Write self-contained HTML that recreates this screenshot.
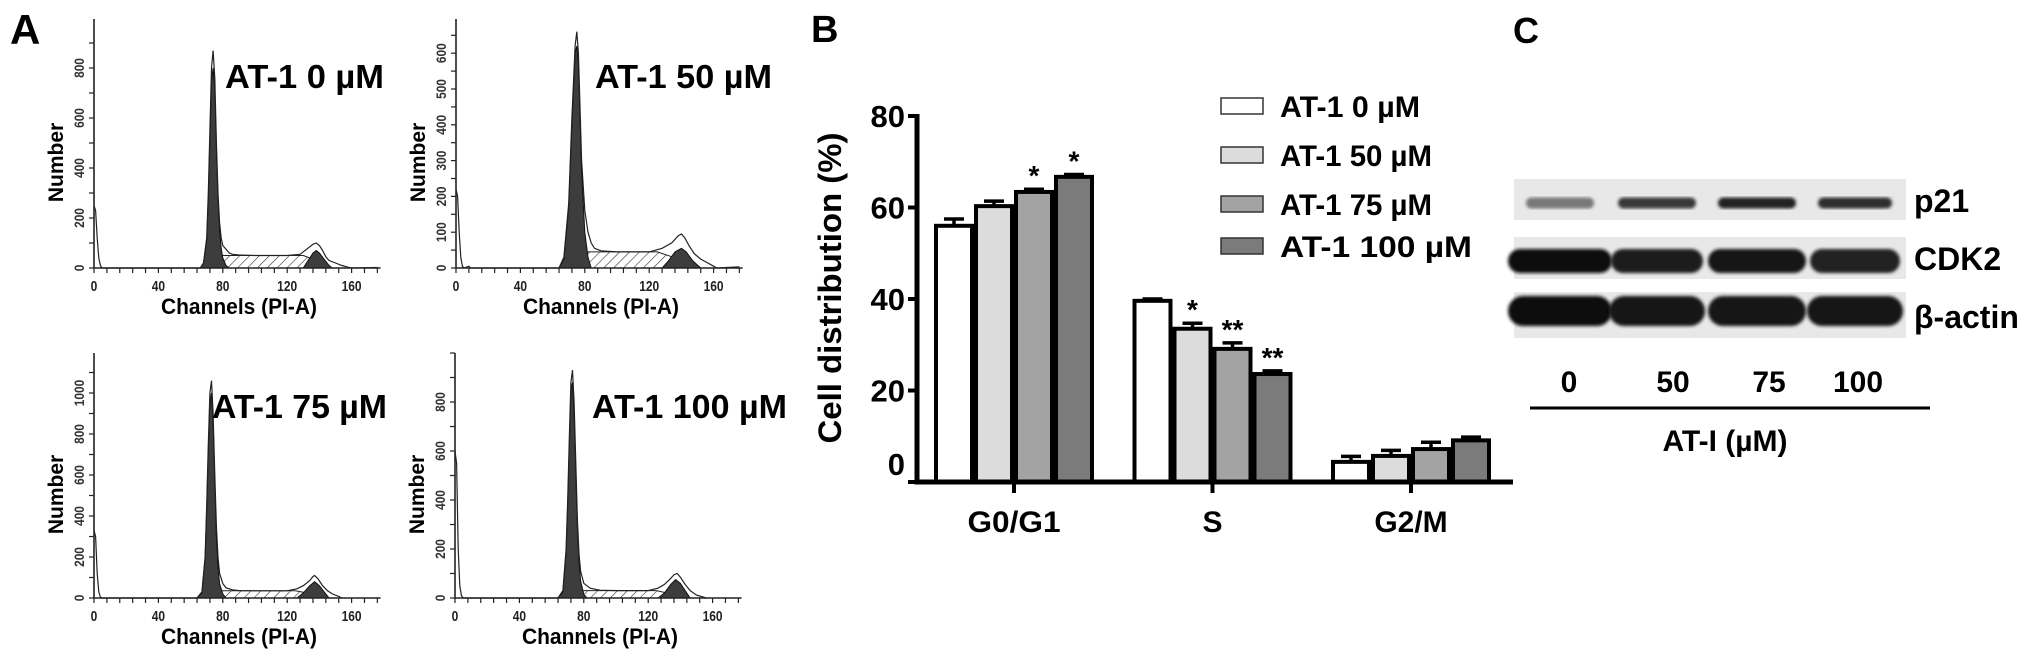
<!DOCTYPE html>
<html><head><meta charset="utf-8"><style>
html,body{margin:0;padding:0;background:#fff;}
svg{display:block;font-family:"Liberation Sans",Arial,sans-serif;}
</style></head><body>
<svg id="fig" width="2031" height="659" viewBox="0 0 2031 659" xmlns="http://www.w3.org/2000/svg">
<defs>
<pattern id="hatch" width="7" height="7" patternUnits="userSpaceOnUse" patternTransform="rotate(45)">
<rect width="7" height="7" fill="#fff"/><line x1="0" y1="0" x2="0" y2="7" stroke="#333" stroke-width="1.2"/>
</pattern>
<filter id="blur"><feGaussianBlur stdDeviation="1.5"/></filter>
</defs>
<g id="panelA"></g>
<g id="panelB"></g>
<g id="panelC"></g>
</svg>
<script>
// ---------- Panel A data (channel, count) ----------
const histLabels = ["AT-1 0 \u00b5M","AT-1 50 \u00b5M","AT-1 75 \u00b5M","AT-1 100 \u00b5M"];
const rawH1 = [[0,250],[1,230],[2,120],[3,40],[4,10],[5,0],[66,0],[68,20],[70,120],[71,300],[72,550],[73,800],[74,870],[75,760],[76,500],[77,300],[78,180],[79,120],[80,90],[82,75],[84,60],[86,55],[90,52],[100,50],[110,50],[120,50],[128,55],[132,75],[136,95],[138,100],[140,90],[142,70],[144,45],[146,30],[150,20],[154,10],[158,3],[160,0],[176,2]];
const g1H1 = [[66,0],[68,20],[70,110],[71,280],[72,520],[73,750],[74,800],[75,720],[76,480],[77,280],[78,150],[79,80],[80,40],[82,10],[84,0]];
const sH1 = [[74,0],[76,30],[80,50],[130,50],[138,30],[145,0]];
const g2H1 = [[130,0],[133,30],[136,60],[138,70],[140,60],[143,35],[146,10],[148,0]];

const rawH2 = [[0,220],[1,200],[2,100],[3,30],[4,5],[5,0],[8,5],[9,0],[64,0],[67,30],[70,180],[72,420],[74,620],[75,660],[76,600],[77,450],[78,300],[80,160],[82,100],[84,70],[86,55],[90,48],[100,45],[110,45],[120,45],[128,55],[134,70],[138,90],[140,95],[142,85],[145,60],[148,40],[152,25],[156,15],[160,5],[162,0],[176,3]];
const g1H2 = [[64,0],[67,25],[70,170],[72,400],[74,600],[75,620],[76,570],[77,420],[78,270],[80,100],[82,30],[84,0]];
const sH2 = [[74,0],[78,30],[82,45],[125,45],[135,30],[145,0]];
const g2H2 = [[128,0],[132,20],[136,45],[140,55],[143,45],[147,20],[152,0]];

const rawH3 = [[0,330],[1,300],[2,120],[3,30],[4,5],[5,0],[64,0],[67,30],[69,200],[70,450],[71,750],[72,1000],[73,1060],[74,900],[75,600],[76,350],[77,200],[78,120],[80,70],[82,50],[86,40],[90,36],[100,35],[110,35],[120,35],[126,45],[130,60],[134,85],[136,105],[137,110],[139,95],[142,60],[145,35],[148,20],[152,8],[154,0]];
const g1H3 = [[64,0],[67,25],[69,190],[70,430],[71,720],[72,950],[73,1000],[74,860],[75,560],[76,300],[77,150],[78,70],[80,20],[82,0]];
const sH3 = [[73,0],[77,25],[80,35],[125,35],[132,25],[140,0]];
const g2H3 = [[126,0],[130,25],[134,60],[137,80],[140,60],[143,30],[146,0]];

const rawH4 = [[0,600],[1,550],[2,200],[3,50],[4,10],[5,0],[64,0],[67,30],[69,200],[70,400],[71,650],[72,880],[73,930],[74,800],[75,550],[76,320],[77,180],[78,110],[80,60],[84,40],[90,32],[100,30],[110,30],[120,30],[126,40],[130,55],[134,80],[136,95],[138,100],[140,85],[143,55],[146,30],[150,12],[154,4],[156,0]];
const g1H4 = [[64,0],[67,25],[69,190],[70,380],[71,620],[72,850],[73,880],[74,760],[75,520],[76,290],[77,150],[78,70],[80,15],[82,0]];
const sH4 = [[73,0],[77,20],[80,30],[125,30],[132,20],[140,0]];
const g2H4 = [[126,0],[130,20],[134,55],[137,75],[140,60],[143,30],[146,0]];

const xTickLabels = [0,40,80,120,160];
const yTicksH1 = [0,200,400,600,800];
const yTicksH2 = [0,100,200,300,400,500,600];
const yTicksH3 = [0,200,400,600,800,1000];
const yTicksH4 = [0,200,400,600,800];

// ---------- Panel B data ----------
const phases = ["G0/G1","S","G2/M"];
const doses = ["AT-1 0 \u00b5M","AT-1 50 \u00b5M","AT-1 75 \u00b5M","AT-1 100 \u00b5M"];
const dose0 = [56.0, 39.6, 4.4];
const dose50 = [60.3, 33.5, 5.7];
const dose75 = [63.4, 29.1, 7.2];
const dose100 = [66.7, 23.6, 9.1];
const err0 = [1.5, 0.4, 1.2];
const err50 = [1.1, 1.2, 1.2];
const err75 = [0.6, 1.3, 1.5];
const err100 = [0.5, 0.7, 0.7];
const stars0 = ["","",""];
const stars50 = ["","*",""];
const stars75 = ["*","**",""];
const stars100 = ["*","**",""];
const bTicks = [0,20,40,60,80];

// ---------- Panel C data ----------
const proteins = ["p21","CDK2","\u03b2-actin"];
const laneLabels = ["0","50","75","100"];
const p21Int = [0.5, 0.8, 0.9, 0.85];
const cdk2Int = [1.0, 0.95, 0.97, 0.9];
const actinInt = [1.0, 0.98, 0.98, 0.98];

const NS = "http://www.w3.org/2000/svg";
function mk(tag, attrs, parent){ const e=document.createElementNS(NS,tag); for(const k in attrs) e.setAttribute(k,attrs[k]); if(parent) parent.appendChild(e); return e; }

// ===== Panel A =====
const A = document.getElementById('panelA');
const la = mk('text',{x:10,y:44,'font-size':42,'font-weight':'bold'},A); la.textContent="A";



const hists = [
 {raw:rawH1,g1:g1H1,s:sH1,g2:g2H1,yt:yTicksH1,x0:94,y0:268,top:19,ppc:1.61,pcy:0.25,minor:100,lab:[225,384,88]},
 {raw:rawH2,g1:g1H2,s:sH2,g2:g2H2,yt:yTicksH2,x0:456,y0:268,top:19,ppc:1.61,pcy:0.358,minor:50,lab:[595,772,88]},
 {raw:rawH3,g1:g1H3,s:sH3,g2:g2H3,yt:yTicksH3,x0:94,y0:598,top:353,ppc:1.61,pcy:0.205,minor:100,lab:[212,387,418]},
 {raw:rawH4,g1:g1H4,s:sH4,g2:g2H4,yt:yTicksH4,x0:455,y0:598,top:353,ppc:1.61,pcy:0.245,minor:100,lab:[592,787,418]}
];
hists.forEach((h,i)=>{
  const g = mk('g',{},A);
  
  
  const X = c=>h.x0 + c*h.ppc;
  const Y = v=>h.y0 - Math.min(v*h.pcy, h.y0-h.top);
  const poly = arr => arr.map(p=>X(p[0]).toFixed(1)+','+Y(p[1]).toFixed(1)).join(' ');
  const sp = mk('polygon',{points:poly(h.s),fill:'url(#hatch)',stroke:'#222','stroke-width':1},g);
  
  
  const g1 = mk('polygon',{points:poly(h.g1),fill:'#3d3d3d',stroke:'#111','stroke-width':1},g);
  
  
  const g2 = mk('polygon',{points:poly(h.g2),fill:'#3d3d3d',stroke:'#111','stroke-width':1},g);
  
  
  const raw = mk('polyline',{points:poly(h.raw),fill:'none',stroke:'#222','stroke-width':1.2},g);
  
  
  const ax = mk('path',{d:`M${h.x0},${h.top} V${h.y0} H${X(178)}`,stroke:'#222','stroke-width':1.6,fill:'none'},g);
  
  
  for(let c=0;c<=176;c+=8) mk('line',{x1:X(c),x2:X(c),y1:h.y0,y2:h.y0+5,stroke:'#222','stroke-width':1.2},g);
  const maxC=(h.y0-h.top)/h.pcy;
  for(let v=0;v<=maxC;v+=h.minor) mk('line',{x1:h.x0-5,x2:h.x0,y1:Y(v),y2:Y(v),stroke:'#222','stroke-width':1.2},g);
  xTickLabels.forEach(t=>{ const e=mk('text',{x:X(t),y:h.y0+23,'font-size':15,'font-weight':'bold','text-anchor':'middle',fill:'#222',transform:`translate(${X(t)},0) scale(0.8,1) translate(${-X(t)},0)`},g); e.textContent=t;
    
     });
  h.yt.forEach(t=>{ const yy=Y(t); const e=mk('text',{x:0,y:0,'font-size':14,'font-weight':'bold','text-anchor':'middle',fill:'#333',transform:`translate(${h.x0-10},${yy}) rotate(-90) scale(0.85,1)`},g); e.textContent=t;
    
     });
  const xt = mk('text',{x:h.x0+145,y:h.y0+46,'font-size':22,'font-weight':'bold','text-anchor':'middle',textLength:156,lengthAdjust:'spacingAndGlyphs'},g);
  xt.textContent="Channels (PI-A)";
  
  
  const yt = mk('text',{x:0,y:0,'font-size':21,'font-weight':'bold','text-anchor':'middle',transform:`translate(${h.x0-31},${(h.top+h.y0)/2+19}) rotate(-90)`},g);
  yt.textContent="Number";
  
  
  const lb = mk('text',{x:h.lab[0],y:h.lab[2],'font-size':33,'font-weight':'bold',textLength:h.lab[1]-h.lab[0],lengthAdjust:'spacingAndGlyphs'},g);
  lb.textContent=histLabels[i];
  
  
});

// ===== Panel B =====
const B = document.getElementById('panelB');
const lbB = mk('text',{x:811,y:42,'font-size':38,'font-weight':'bold'},B); lbB.textContent="B";


const bx0=917, by0=482, byTop=116, bxEnd=1513;
const yB = v => by0 - v*(by0-byTop)/80;
const groupCenters = [1014,1213,1411];
const xGroup = i => groupCenters[0] + i*(groupCenters[2]-groupCenters[0])/2;
const series = [dose0,dose50,dose75,dose100];
const errs = [err0,err50,err75,err100];
const stars = [stars0,stars50,stars75,stars100];
const fills = ["#ffffff","#dcdcdc","#a3a3a3","#7b7b7b"];
const barW = 40;
series.forEach((vals,s)=>{
  vals.forEach((v,i)=>{
    const x = xGroup(i) - 2*barW + s*barW + 2;
    const r = mk('rect',{x:x,y:yB(v),width:barW-4,height:by0-yB(v),fill:fills[s],stroke:'#000','stroke-width':4},B);
    
    
    const ey = yB(v+errs[s][i]);
    const eb = mk('path',{d:`M${x+barW/2-2},${yB(v)} V${ey} M${x+barW/2-12},${ey} H${x+barW/2+8}`,stroke:'#000','stroke-width':3.5,fill:'none'},B);
    
    
    if(stars[s][i]){
      const st = mk('text',{x:x+barW/2-2,y:ey-4,'font-size':28,'font-weight':'bold','text-anchor':'middle'},B);
      st.textContent=stars[s][i];
      
      
    }
  });
});
const bAx = mk('path',{d:`M${bx0},${byTop-2} V${by0} H${bxEnd}`,stroke:'#000','stroke-width':5,fill:'none'},B);


bTicks.forEach(t=>{
  mk('line',{x1:bx0-9,x2:bx0,y1:yB(t),y2:yB(t),stroke:'#000','stroke-width':4},B);
  const e=mk('text',{x:905,y:t===0?yB(t)-7:yB(t)+11,'font-size':31,'font-weight':'bold','text-anchor':'end'},B);
  e.textContent=t;
  
  
});
phases.forEach((p,i)=>{
  mk('line',{x1:xGroup(i),x2:xGroup(i),y1:by0,y2:by0+11,stroke:'#000','stroke-width':4},B);
  const attrs={x:xGroup(i),y:532,'font-size':30,'font-weight':'bold','text-anchor':'middle'};
  if(p==="G0/G1"){attrs.textLength=93;attrs.lengthAdjust='spacingAndGlyphs';}
  const e=mk('text',attrs,B);
  e.textContent=p;
  
  
});
const bYT = mk('text',{x:0,y:0,'font-size':32,'font-weight':'bold','text-anchor':'middle',textLength:311,lengthAdjust:'spacingAndGlyphs',transform:'translate(841,288) rotate(-90)'},B);
bYT.textContent="Cell distribution (%)";


const legY = [106,155,204,246];
doses.forEach((d,s)=>{
  const r=mk('rect',{x:1221,y:legY[s]-8,width:42,height:16,fill:fills[s],stroke:'#333','stroke-width':1.5},B);
  
  
  const t=mk('text',{x:1280,y:legY[s]+11,'font-size':30,'font-weight':'bold',textLength:[140,152,152,192][s],lengthAdjust:'spacingAndGlyphs'},B);
  t.textContent=d;
  
  
});

// ===== Panel C =====
const C = document.getElementById('panelC');
const lbC = mk('text',{x:1513,y:43,'font-size':36,'font-weight':'bold'},C); lbC.textContent="C";


const laneX = [1560,1657,1757,1855];
const strips = [
 {y:179,h:41,by:203,bh:11,bw:[68,78,78,74],int:p21Int,ty:212},
 {y:237,h:42,by:261,bh:24,bw:[104,92,98,90],int:cdk2Int,ty:270},
 {y:292,h:46,by:311,bh:30,bw:[104,96,98,96],int:actinInt,ty:328}
];
strips.forEach((s,i)=>{
  const g=mk('g',{},C);
  
  
  mk('rect',{x:1514,y:s.y,width:392,height:s.h,fill:'#e8e8e8'},g);
  s.int.forEach((v,j)=>{
    const c = Math.round(225 - v*210);
    const band=mk('rect',{x:laneX[j]-s.bw[j]/2,y:s.by-s.bh/2,width:s.bw[j],height:s.bh,rx:s.bh/2,ry:s.bh/2,fill:`rgb(${c},${c},${c})`,filter:'url(#blur)'},g);
    
    
  });
  const t=mk('text',{x:1914,y:s.ty,'font-size':32,'font-weight':'bold'},C);
  t.textContent=proteins[i];
  
  
});
laneLabels.forEach((l,j)=>{
  const t=mk('text',{x:[1569,1673,1769,1858][j],y:392,'font-size':30,'font-weight':'bold','text-anchor':'middle'},C);
  t.textContent=l;
  
  
});
const ln=mk('line',{x1:1530,x2:1930,y1:408,y2:408,stroke:'#000','stroke-width':3},C);


const dt=mk('text',{x:1725,y:451,'font-size':30,'font-weight':'bold','text-anchor':'middle'},C);
dt.textContent="AT-I (\u00b5M)";


</script>
</body></html>
